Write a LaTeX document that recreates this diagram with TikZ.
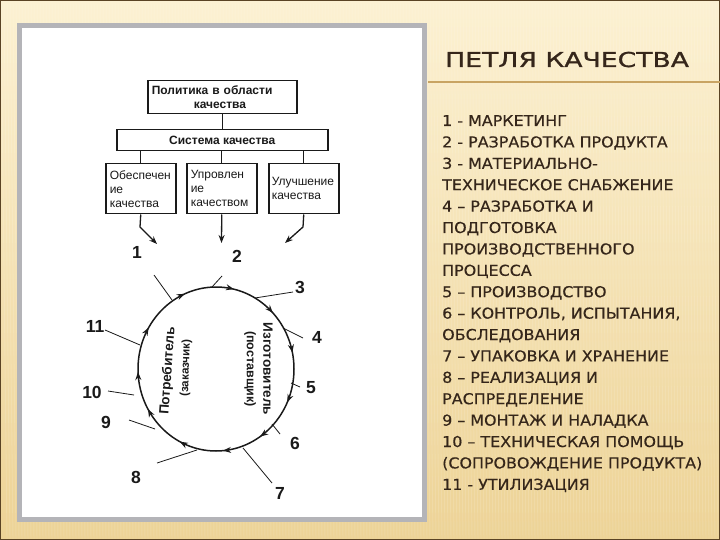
\documentclass[tikz,border=0pt]{standalone}
\usepackage{fontspec}
\setmainfont{Liberation Sans}
\newfontfamily\listfont[FakeStretch=1.06,FakeBold=0.4]{DejaVu Sans}
\newfontfamily\titlefont[FakeStretch=1.30,FakeBold=1.2]{DejaVu Sans}
\usetikzlibrary{arrows.meta,decorations.markings,calc}
\definecolor{bgtop}{HTML}{FCF1D2}
\definecolor{bgbot}{HTML}{EDD396}
\definecolor{brownline}{HTML}{C9A463}
\definecolor{darktext}{HTML}{35261A}
\definecolor{framecol}{HTML}{5A4324}
\definecolor{panelgray}{HTML}{B4B4B8}
\definecolor{ink}{HTML}{1A1A1A}
\tikzset{looparr/.tip={Stealth[length=8pt,width=6pt]}}
\begin{document}
\begin{tikzpicture}[x=1pt,y=-1pt,
  box/.style={draw=ink,line width=1.5pt,inner xsep=4pt,inner ysep=0pt,align=left,
    font=\fontsize{12}{14}\selectfont,text=ink},
  conn/.style={draw=ink,line width=1.3pt},
  arr/.style={draw=ink,line width=1.3pt,-{Stealth[length=8pt,width=6pt]}},
  spoke/.style={draw=ink,line width=0.8pt},
  num/.style={font=\fontsize{17.5}{17.5}\selectfont\bfseries,text=ink,inner sep=0pt},
  roundtxt/.style={font=\fontsize{13.5}{13.5}\selectfont\bfseries,text=ink,inner sep=0pt},
  listline/.style={anchor=base west,inner sep=0pt,text=darktext,
    font=\listfont\fontsize{15}{15}\selectfont},
]
\useasboundingbox (0,0) rectangle (720,540);
% background
\shade[top color=bgtop,bottom color=bgbot] (0,0) rectangle (720,540);
\foreach \x in {1,4,...,720}
  \draw[white,opacity=0.12,line width=0.9pt] (\x,0) -- (\x+6,540);
\draw[framecol,line width=2.5pt] (0,0) rectangle (720,540);
% panel
\draw[panelgray,line width=5pt,fill=white] (19.5,25.5) rectangle (424.5,519.5);
% title
\node[anchor=base west,inner sep=0pt,text=darktext,font=\titlefont\fontsize{20.5}{20.5}\selectfont]
  (title) at (445,67) {ПЕТЛЯ КАЧЕСТВА};
\coordinate (tl1) at (428,82);
\coordinate (tl2) at (720,82);
\draw[brownline,line width=1.2pt] (tl1) -- (tl2);
% list
\foreach \t [count=\i] in {
  {1 - МАРКЕТИНГ},
  {2 - РАЗРАБОТКА ПРОДУКТА},
  {3 - МАТЕРИАЛЬНО-},
  {ТЕХНИЧЕСКОЕ СНАБЖЕНИЕ},
  {4 – РАЗРАБОТКА И},
  {ПОДГОТОВКА},
  {ПРОИЗВОДСТВЕННОГО},
  {ПРОЦЕССА},
  {5 – ПРОИЗВОДСТВО},
  {6 – КОНТРОЛЬ, ИСПЫТАНИЯ,},
  {ОБСЛЕДОВАНИЯ},
  {7 – УПАКОВКА И ХРАНЕНИЕ},
  {8 – РЕАЛИЗАЦИЯ И},
  {РАСПРЕДЕЛЕНИЕ},
  {9 – МОНТАЖ И НАЛАДКА},
  {10 – ТЕХНИЧЕСКАЯ ПОМОЩЬ},
  {(СОПРОВОЖДЕНИЕ ПРОДУКТА)},
  {11 - УТИЛИЗАЦИЯ}}
  \node[listline] (l\i) at (442,{126+21.4*(\i-1)}) {\t};
% boxes
\node[box,font=\fontsize{12}{14}\selectfont\bfseries,minimum width=149,minimum height=33,
  text width=141,anchor=north west] (pol) at (147,80)
  {Политика в области\\\hspace*{42pt}качества};
\node[box,font=\fontsize{12}{14}\selectfont\bfseries,minimum width=211,minimum height=21,
  anchor=north west,align=center] (sys) at (116,129) {Система качества};
\node[box,minimum width=70,minimum height=50,text width=62,anchor=north west] (b1) at (105,163)
  {Обеспечен\\ие\\качества};
\node[box,minimum width=70,minimum height=50,text width=62,anchor=north west] (b2) at (186,163)
  {Упровлен\\ие\\качеством};
\node[box,minimum width=70,minimum height=50,text width=64,inner xsep=3pt,anchor=north west] (b3) at (268,163)
  {Улучшение\\качества};
\draw[conn] (pol.south) -- (sys.north);
\draw[conn] (sys.south -| b1.north) -- (b1.north);
\draw[conn] (sys.south -| b2.north) -- (b2.north);
\draw[conn] (sys.south -| b3.north) -- (b3.north);
% arrows to loop
\coordinate (a1k) at (140,227);
\coordinate (a1e) at (157,244);
\coordinate (a2e) at (221.5,243);
\coordinate (a3k) at (303,227);
\coordinate (a3e) at (285,243);
\draw[arr] (b1.south) -- (a1k) -- (a1e);
\draw[arr] (b2.south) -- (a2e);
\draw[arr] (b3.south) -- (a3k) -- (a3e);
% loop
\coordinate (ctr) at (216,369);
\draw[ink,line width=1.5pt,postaction={decorate},decoration={markings,
  mark=at position 0.068 with {\arrow{looparr}},
  mark=at position 0.156 with {\arrow{looparr}},
  mark=at position 0.236 with {\arrow{looparr}},
  mark=at position 0.325 with {\arrow{looparr}},
  mark=at position 0.417 with {\arrow{looparr}},
  mark=at position 0.494 with {\arrow{looparr}},
  mark=at position 0.586 with {\arrow{looparr}},
  mark=at position 0.686 with {\arrow{looparr}},
  mark=at position 0.786 with {\arrow{looparr}},
  mark=at position 0.878 with {\arrow{looparr}},
  mark=at position 0.967 with {\arrow{looparr}}}]
  (ctr) ++(78,0) arc[start angle=0,end angle=360,x radius=78,y radius=82];
% spokes
\foreach \i/\ax/\ay/\bx/\by in {1/154/275/172/300, 2/222/276/212/287, 3/293/292/255/298,
  4/303/338/283/328, 5/300/387/291/383, 6/280/434/272/424, 7/272/483/243/448,
  8/157/463/197/450, 9/129/420/155/429, 10/108/391/134/395, 11/105/330/140/345}
{
  \coordinate (s\i o) at (\ax,\ay);
  \coordinate (s\i i) at (\bx,\by);
  \draw[spoke] (s\i o) -- (s\i i);
}
% numbers
\node[num] (n1) at (137,252) {1};
\node[num] (n2) at (237,256) {2};
\node[num] (n3) at (300,287) {3};
\node[num] (n4) at (317,337) {4};
\node[num] (n5) at (311,388) {5};
\node[num] (n6) at (295,443) {6};
\node[num] (n7) at (280,493) {7};
\node[num] (n8) at (136,477) {8};
\node[num] (n9) at (106,422) {9};
\node[num] (n10) at (92,392) {10};
\node[num] (n11) at (95,326) {11};
% texts inside loop
\node[roundtxt,rotate=86] (cons) at (168,371) {Потребитель};
\node[roundtxt,rotate=88,font=\fontsize{11.5}{11.5}\selectfont\bfseries] (consb) at (186,368) {(заказчик)};
\node[roundtxt,rotate=-90] (manf) at (268,369) {Изготовитель};
\node[roundtxt,rotate=-90,font=\fontsize{12.5}{12.5}\selectfont\bfseries] (manb) at (250,369) {(поставщик)};
\end{tikzpicture}
\end{document}
